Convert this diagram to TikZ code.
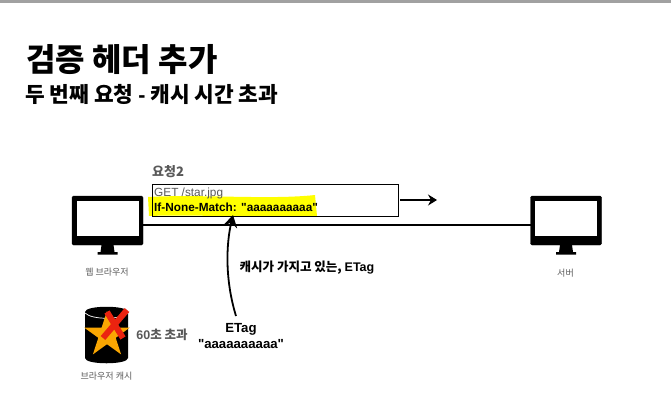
\documentclass[tikz,border=0pt]{standalone}
\usepackage{fontspec}
\setmainfont{Noto Sans CJK KR}
\newfontfamily\lat[Ligatures=NoCommon]{Liberation Sans}
\usetikzlibrary{arrows.meta}
\definecolor{greytext}{HTML}{595959}
\definecolor{hl}{HTML}{FFFF00}
\definecolor{starc}{HTML}{F9A602}
\definecolor{crossc}{HTML}{EB2310}
\tikzset{
  x=1pt,y=-1pt,
  lbl/.style={inner sep=0pt,anchor=center},
  title/.style={lbl,anchor=west,font=\fontsize{32}{36}\selectfont\bfseries},
  subtitle/.style={lbl,anchor=west,font=\fontsize{21.4}{24}\selectfont\bfseries},
  small/.style={lbl,text=greytext,font=\fontsize{9}{11}\selectfont},
  grey/.style={lbl,text=greytext,font=\fontsize{12.5}{15}\selectfont\bfseries},
  blk/.style={lbl,text=black,font=\fontsize{12.5}{15}\selectfont\bfseries},
  monbody/.style={fill=black,draw=black,rounded corners=1.5pt,minimum width=71pt,minimum height=49pt,inner sep=0pt,outer sep=0pt},
  conn/.style={draw=black,line width=1.1pt},
}
\newcommand{\monstand}[1]{%
  \fill[white] ([xshift=4.5pt,yshift=-4.5pt]#1.north west) rectangle ([xshift=-4.5pt,yshift=9pt]#1.south east);
  \fill[black] ([xshift=-6pt]#1.south) -- ([xshift=6pt]#1.south) -- ([xshift=7pt,yshift=-7pt]#1.south) -- ([xshift=10pt,yshift=-7pt]#1.south) -- ([xshift=10pt,yshift=-9.5pt]#1.south) -- ([xshift=-10pt,yshift=-9.5pt]#1.south) -- ([xshift=-10pt,yshift=-7pt]#1.south) -- ([xshift=-7pt,yshift=-7pt]#1.south) -- cycle;
}
\begin{document}
\begin{tikzpicture}
\useasboundingbox (0,0) rectangle (671,408);
\fill[white] (0,0) rectangle (671,408);
\fill[black!37] (0,0) rectangle (671,2.5);
\node[title] (t1) at (26,60) {검증 헤더 추가};
\node[subtitle] (t2) at (25,94) {두 번째 요청 {\lat -} 캐시 시간 초과};
% highlight
\fill[hl] (148,197) .. controls (200,194) and (270,200) .. (315,195) -- (317,216) .. controls (270,219) and (200,214) .. (149,216) -- cycle;
% monitors
\node[monbody] (client) at (107.5,220.5) {};
\monstand{client}
\node[monbody] (server) at (566,220.5) {};
\monstand{server}
\node[small] (clabel) at (107,272.5) {웹 브라우저};
\node[small] (slabel) at (565.5,273.5) {서버};
% connector
\draw[conn] (client.east |- 0,225) -- (server.west |- 0,225);
% request box
\node[draw=black,line width=0.9pt,minimum width=246pt,minimum height=32pt,inner sep=0pt] (req) at (275,200.5) {};
\node[grey,anchor=west,font=\fontsize{13}{15}\selectfont\bfseries] (r2) at (152,172) {요청2};
\node[lbl,anchor=west,text=greytext,font=\lat\fontsize{11.8}{13}\selectfont] (get) at (154,193.5) {GET /star.jpg};
\node[lbl,anchor=west,text=black,font=\lat\fontsize{11.8}{13}\selectfont\bfseries] (inm) at (154,207.5) {If-None-Match: \symbol{34}aaaaaaaaaa\symbol{34}};
\coordinate (aout) at (400,200);
\coordinate (aend) at (437,200);
\draw[conn,-{Stealth[length=9pt,width=11pt,inset=3pt]}] (aout) -- (aend);
% labels
\node[blk] (note) at (307,267.5) {캐시가 가지고 있는, {\lat ETag}};
\node[blk,align=center,font=\lat\fontsize{13.2}{16}\selectfont\bfseries] (etag) at (241,336) {ETag\\\symbol{34}aaaaaaaaaa\symbol{34}};
\coordinate (cstart) at (236,316);
\draw[draw=black,line width=1.8pt,-{Stealth[length=12pt,width=14pt,inset=4pt]}] (cstart) .. controls (225,280) and (226,245) .. (233,215);
% cache
\fill[black] (85,312) .. controls (85,305) and (128,305) .. (128,312) -- (128,358) .. controls (128,365) and (85,365) .. (85,358) -- cycle;
\draw[white,line width=0.7pt] (85,313) .. controls (92,320) and (121,320) .. (128,313);
\fill[starc] (107,311) -- (112.4,327.6) -- (129.8,327.6) -- (115.7,337.8) -- (121.1,354.4) -- (107,344.2) -- (92.9,354.4) -- (98.3,337.8) -- (84.2,327.6) -- (101.6,327.6) -- cycle;
\draw[crossc,line width=6pt] (107,312) -- (123,338);
\draw[crossc,line width=6pt] (127,310) -- (103,338);
\node[small] (clab) at (106.5,376) {브라우저 캐시};
\node[grey] (sec) at (162,334.5) {{\lat 60}초 초과};
\end{tikzpicture}
\end{document}
